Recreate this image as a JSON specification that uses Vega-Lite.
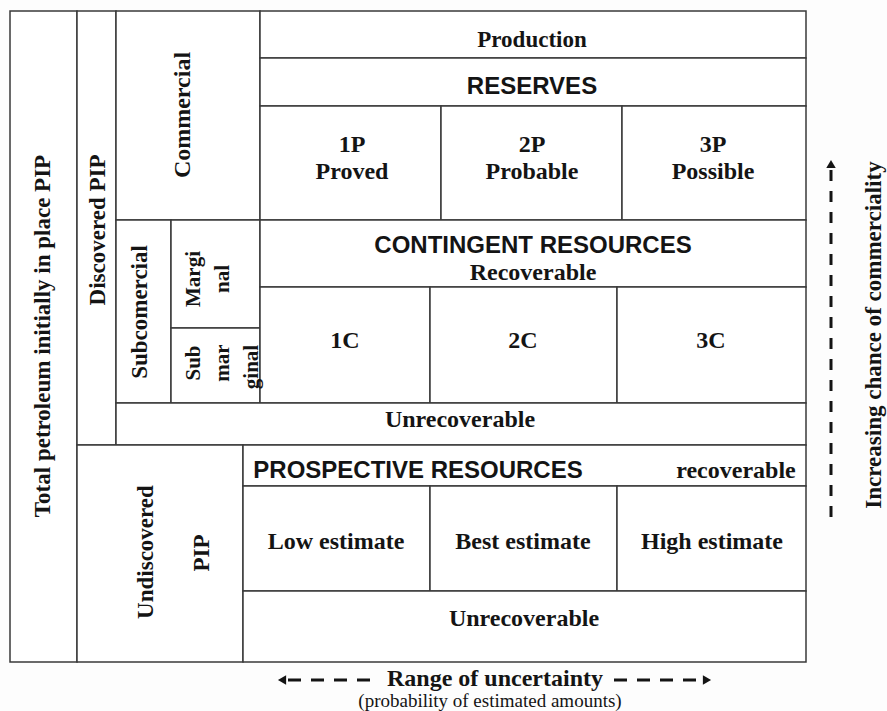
{
  "$schema": "https://vega.github.io/schema/vega-lite/v6.json",
  "width": 887,
  "height": 711,
  "autosize": {"type": "none"},
  "padding": 0,
  "background": "#fdfdfd",
  "config": {"view": {"stroke": null}},
  "datasets": {
    "cells": [
      {"name": "Total PIP", "x1": 10, "x2": 77, "y1": 11, "y2": 662},
      {"name": "Discovered", "x1": 77, "x2": 116, "y1": 11, "y2": 445},
      {"name": "Commercial", "x1": 116, "x2": 260, "y1": 11, "y2": 220},
      {"name": "Production", "x1": 260, "x2": 806, "y1": 11, "y2": 58},
      {"name": "Reserves", "x1": 260, "x2": 806, "y1": 58, "y2": 106},
      {"name": "1P", "x1": 260, "x2": 441, "y1": 106, "y2": 220},
      {"name": "2P", "x1": 441, "x2": 622, "y1": 106, "y2": 220},
      {"name": "3P", "x1": 622, "x2": 806, "y1": 106, "y2": 220},
      {"name": "Subcomercial", "x1": 116, "x2": 171, "y1": 220, "y2": 403},
      {"name": "Marginal", "x1": 171, "x2": 260, "y1": 220, "y2": 328},
      {"name": "Submarginal", "x1": 171, "x2": 260, "y1": 328, "y2": 403},
      {"name": "Contingent", "x1": 260, "x2": 806, "y1": 220, "y2": 287},
      {"name": "1C", "x1": 260, "x2": 430, "y1": 287, "y2": 403},
      {"name": "2C", "x1": 430, "x2": 617, "y1": 287, "y2": 403},
      {"name": "3C", "x1": 617, "x2": 806, "y1": 287, "y2": 403},
      {"name": "Unrecoverable 1", "x1": 116, "x2": 806, "y1": 403, "y2": 445},
      {"name": "Undiscovered", "x1": 77, "x2": 243, "y1": 445, "y2": 662},
      {"name": "Prospective", "x1": 243, "x2": 806, "y1": 445, "y2": 486},
      {"name": "Low", "x1": 243, "x2": 430, "y1": 486, "y2": 591},
      {"name": "Best", "x1": 430, "x2": 617, "y1": 486, "y2": 591},
      {"name": "High", "x1": 617, "x2": 806, "y1": 486, "y2": 591},
      {"name": "Unrecoverable 2", "x1": 243, "x2": 806, "y1": 591, "y2": 662}
    ],
    "serif": [
      {"label": "Total petroleum initially in place PIP", "x": 43, "y": 336, "a": 270, "s": 23},
      {"label": "Discovered PIP", "x": 98, "y": 230, "a": 270, "s": 23},
      {"label": "Commercial", "x": 183, "y": 115, "a": 270, "s": 24},
      {"label": "Subcomercial", "x": 140, "y": 312, "a": 270, "s": 23},
      {"label": "Margi", "x": 194, "y": 279, "a": 270, "s": 21},
      {"label": "nal", "x": 223, "y": 279, "a": 270, "s": 21},
      {"label": "Sub", "x": 194, "y": 363, "a": 270, "s": 21},
      {"label": "mar", "x": 223, "y": 363, "a": 270, "s": 21},
      {"label": "ginal", "x": 252, "y": 367, "a": 270, "s": 21},
      {"label": "Undiscovered", "x": 146, "y": 552, "a": 270, "s": 23},
      {"label": "PIP", "x": 202, "y": 553, "a": 270, "s": 23},
      {"label": "Increasing chance of commerciality", "x": 874, "y": 335, "a": 270, "s": 23},
      {"label": "Production", "x": 532, "y": 40, "a": 0, "s": 23},
      {"label": "1P", "x": 352, "y": 145, "a": 0, "s": 24},
      {"label": "Proved", "x": 352, "y": 172, "a": 0, "s": 24},
      {"label": "2P", "x": 532, "y": 145, "a": 0, "s": 24},
      {"label": "Probable", "x": 532, "y": 172, "a": 0, "s": 24},
      {"label": "3P", "x": 713, "y": 145, "a": 0, "s": 24},
      {"label": "Possible", "x": 713, "y": 172, "a": 0, "s": 24},
      {"label": "Recoverable", "x": 533, "y": 273, "a": 0, "s": 24},
      {"label": "1C", "x": 345, "y": 341, "a": 0, "s": 24},
      {"label": "2C", "x": 523, "y": 341, "a": 0, "s": 24},
      {"label": "3C", "x": 711, "y": 341, "a": 0, "s": 24},
      {"label": "Unrecoverable", "x": 460, "y": 420, "a": 0, "s": 24},
      {"label": "recoverable", "x": 736, "y": 471, "a": 0, "s": 24},
      {"label": "Low estimate", "x": 336, "y": 542, "a": 0, "s": 24},
      {"label": "Best estimate", "x": 523, "y": 542, "a": 0, "s": 24},
      {"label": "High estimate", "x": 712, "y": 542, "a": 0, "s": 24},
      {"label": "Unrecoverable", "x": 524, "y": 619, "a": 0, "s": 24},
      {"label": "Range of uncertainty", "x": 495, "y": 679, "a": 0, "s": 24}
    ],
    "sans": [
      {"label": "RESERVES", "x": 532, "y": 87},
      {"label": "CONTINGENT RESOURCES", "x": 533, "y": 246},
      {"label": "PROSPECTIVE RESOURCES", "x": 418, "y": 471}
    ],
    "plain": [
      {"label": "(probability of estimated amounts)", "x": 490, "y": 701}
    ],
    "dashes": [
      {"x1": 288, "x2": 376, "y1": 680, "y2": 680, "d": "h"},
      {"x1": 614, "x2": 700, "y1": 680, "y2": 680, "d": "h"},
      {"x1": 831, "x2": 831, "y1": 170, "y2": 523, "d": "v"}
    ],
    "heads": [
      {"x": 282, "y": 680, "shape": "triangle-left"},
      {"x": 707, "y": 680, "shape": "triangle-right"},
      {"x": 831, "y": 164, "shape": "triangle-up"}
    ]
  },
  "layer": [
    {
      "data": {"name": "cells"},
      "mark": {"type": "rect", "fill": "#ffffff", "stroke": "#3a3a3a", "strokeWidth": 1.5},
      "encoding": {
        "x": {"field": "x1", "type": "quantitative", "scale": {"domain": [0, 887], "nice": false, "zero": false}, "axis": null},
        "x2": {"field": "x2"},
        "y": {"field": "y1", "type": "quantitative", "scale": {"domain": [0, 711], "nice": false, "zero": false, "reverse": true}, "axis": null},
        "y2": {"field": "y2"}
      }
    },
    {
      "data": {"name": "serif"},
      "mark": {"type": "text", "font": "Liberation Serif", "fontWeight": "bold", "align": "center", "baseline": "middle", "color": "#141414"},
      "encoding": {
        "x": {"field": "x", "type": "quantitative"},
        "y": {"field": "y", "type": "quantitative"},
        "text": {"field": "label"},
        "angle": {"field": "a", "type": "quantitative", "scale": null},
        "size": {"field": "s", "type": "quantitative", "scale": null}
      }
    },
    {
      "data": {"name": "sans"},
      "mark": {"type": "text", "font": "Liberation Sans", "fontWeight": "bold", "fontSize": 24, "align": "center", "baseline": "middle", "color": "#141414"},
      "encoding": {
        "x": {"field": "x", "type": "quantitative"},
        "y": {"field": "y", "type": "quantitative"},
        "text": {"field": "label"}
      }
    },
    {
      "data": {"name": "plain"},
      "mark": {"type": "text", "font": "Liberation Serif", "fontSize": 19, "align": "center", "baseline": "middle", "color": "#141414"},
      "encoding": {
        "x": {"field": "x", "type": "quantitative"},
        "y": {"field": "y", "type": "quantitative"},
        "text": {"field": "label"}
      }
    },
    {
      "data": {"name": "dashes"},
      "transform": [{"filter": "datum.d === 'h'"}],
      "mark": {"type": "rule", "stroke": "#141414", "strokeWidth": 3, "strokeDash": [13, 10]},
      "encoding": {
        "x": {"field": "x1", "type": "quantitative"},
        "x2": {"field": "x2"},
        "y": {"field": "y1", "type": "quantitative"},
        "y2": {"field": "y2"}
      }
    },
    {
      "data": {"name": "dashes"},
      "transform": [{"filter": "datum.d === 'v'"}],
      "mark": {"type": "rule", "stroke": "#141414", "strokeWidth": 3, "strokeDash": [11, 10]},
      "encoding": {
        "x": {"field": "x1", "type": "quantitative"},
        "x2": {"field": "x2"},
        "y": {"field": "y1", "type": "quantitative"},
        "y2": {"field": "y2"}
      }
    },
    {
      "data": {"name": "heads"},
      "mark": {"type": "point", "filled": true, "size": 90, "color": "#141414", "opacity": 1},
      "encoding": {
        "x": {"field": "x", "type": "quantitative"},
        "y": {"field": "y", "type": "quantitative"},
        "shape": {"field": "shape", "type": "nominal", "scale": null}
      }
    }
  ]
}
